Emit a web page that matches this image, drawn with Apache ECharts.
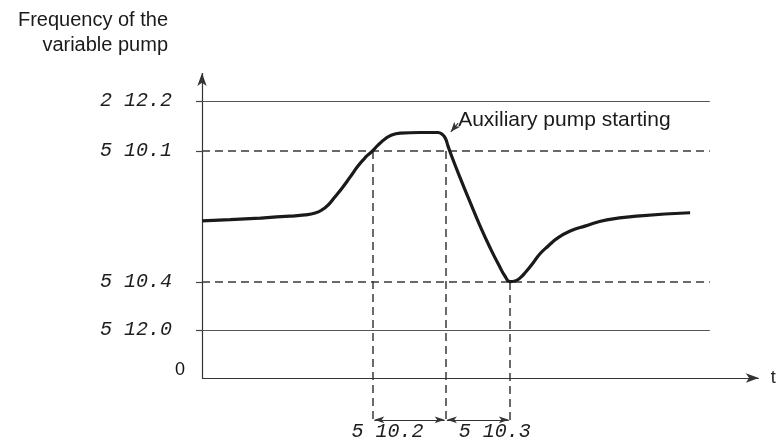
<!DOCTYPE html>
<html><head><meta charset="utf-8">
<script src="https://cdn.jsdelivr.net/npm/echarts@6/dist/echarts.min.js"></script>
<style>html,body{margin:0;padding:0;background:#fff}#c{width:780px;height:440px}</style>
</head><body><div id="c"></div>
<script>
// ---- data ----
const levelLabels = ['2 12.2', '5 10.1', '5 10.4', '5 12.0'];
const levelValues = [89.4, 73.2, 31.0, 15.5];
const levelDashed = [false, true, true, false];
const curveT = [0.0, 5.0, 10.3, 15.6, 18.3, 20.1, 21.3, 22.4, 23.6, 24.9, 26.3, 27.7, 29.1, 30.2, 31.3, 32.5, 33.7, 35.2, 38.7, 41.9, 42.6, 43.2, 43.7, 44.4, 45.8, 47.6, 49.4, 51.2, 52.9, 53.8, 54.7, 55.6, 56.5, 57.5, 58.8, 60.0, 61.5, 63.2, 65.4, 68.0, 71.9, 77.8, 86.7];
const curveF = [50.7, 51.1, 51.6, 52.2, 52.6, 53.2, 54.2, 55.8, 58.4, 61.3, 64.8, 68.4, 71.3, 73.1, 75.2, 77.1, 78.4, 79.0, 79.2, 79.2, 78.7, 77.4, 74.8, 71.3, 64.8, 56.8, 49.0, 41.9, 35.8, 32.9, 31.1, 31.3, 32.3, 34.2, 37.1, 40.0, 42.6, 45.2, 47.4, 49.0, 51.0, 52.3, 53.3];
const markerT = [30.4, 43.3, 54.7];
const markerLevel = [73.2, 73.2, 31.0];
const intervalLabels = ['5 10.2', '5 10.3'];
const annotationText = 'Auxiliary pump starting';
const titleText = 'Frequency of the\nvariable pump';
const xAxisName = 't';
const originLabel = '0';

// ---- chart ----
const segFont = {fontFamily: 'Liberation Mono', fontStyle: 'italic', fontSize: 20, color: '#1e1e1e'};
const X_MAX = 100, Y_MIN = -20, Y_MAX = 100;
const levelEnd = 90.2, dropBottom = -14.5, arrowY = -13.5;

const ml = [];
// axes with arrows
ml.push([{coord: [0, 0], symbol: 'none'}, {coord: [0, 98.4], symbol: 'arrow', symbolSize: [7, 13]}]);
ml.push([{coord: [0, 0], symbol: 'none'}, {coord: [98.9, 0], symbol: 'arrow', symbolSize: [7, 13],
  label: {show: true, formatter: xAxisName, position: 'end', distance: 12, fontFamily: 'Liberation Sans', fontSize: 18, color: '#222'}}]);
// level lines
levelValues.forEach((v, i) => {
  ml.push([{coord: [0, v], symbol: 'none', lineStyle: {type: levelDashed[i] ? [8, 5] : 'solid', width: levelDashed[i] ? 1.5 : 1.2, color: levelDashed[i] ? '#3a3a3a' : '#555'}},
           {coord: [levelEnd, v], symbol: 'none'}]);
});
// vertical dashed drop lines
markerT.forEach((t, i) => {
  ml.push([{coord: [t, markerLevel[i]], symbol: 'none', lineStyle: {type: [8, 5], width: 1.5, color: '#3a3a3a'}},
           {coord: [t, dropBottom], symbol: 'none'}]);
});
// interval double arrows
for (let i = 0; i < markerT.length - 1; i++) {
  ml.push([{coord: [markerT[i] + 0.2, arrowY], symbol: 'arrow', symbolSize: [5, 10], lineStyle: {width: 1.2, color: '#333', type: 'solid'}},
           {coord: [markerT[i + 1] - 0.2, arrowY], symbol: 'arrow', symbolSize: [5, 10]}]);
}
// annotation arrow
const evT = markerT[1], evF = 79.2;
ml.push([{coord: [evT + 2.2, evF + 3.0], symbol: 'none', lineStyle: {width: 1.2, color: '#333', type: 'solid'}},
         {coord: [evT + 0.9, evF + 0.2], symbol: 'arrow', symbolSize: [6, 10]}]);

const textPts = [];
intervalLabels.forEach((s, i) => {
  textPts.push({value: [(markerT[i] + markerT[i + 1]) / 2, arrowY],
    label: Object.assign({show: true, formatter: s, position: 'bottom', distance: 2, offset: [i === 0 ? -22 : 17, 0]}, segFont)});
});
textPts.push({value: [evT + 2.2, evF + 3.8],
  label: {show: true, formatter: annotationText, position: 'right', distance: 0, fontFamily: 'Liberation Sans', fontSize: 21, color: '#1a1a1a'}});
textPts.push({value: [0, 0],
  label: {show: true, formatter: originLabel, position: 'left', distance: 17, offset: [0, -8], fontFamily: 'Liberation Sans', fontSize: 18, color: '#111'}});

const chart = echarts.init(document.getElementById('c'), null, {renderer: 'canvas'});
chart.setOption({
  animation: false,
  backgroundColor: '#fff',
  title: {text: titleText, left: 168, top: 8, padding: 0, textAlign: 'right',
    textStyle: {fontFamily: 'Liberation Sans', fontSize: 20, fontWeight: 'normal', color: '#1a1a1a', lineHeight: 25}},
  grid: {left: 202, top: 68, width: 563, height: 372},
  xAxis: {type: 'value', min: 0, max: X_MAX, show: false},
  yAxis: {type: 'value', min: Y_MIN, max: Y_MAX,
    axisLine: {show: false}, splitLine: {show: false},
    axisTick: {show: true, length: 6, customValues: levelValues, lineStyle: {color: '#444', width: 1.2}},
    axisLabel: Object.assign({show: true, margin: 30, customValues: levelValues, padding: [0, 0, 7, 0],
      formatter: v => { const i = levelValues.indexOf(v); return i >= 0 ? levelLabels[i] : ''; }}, segFont)},
  series: [
    {type: 'line', data: [], silent: true,
     markLine: {silent: true, symbol: 'none', label: {show: false}, emphasis: {disabled: true},
       lineStyle: {color: '#333', width: 1.2, type: 'solid'}, data: ml}},
    {type: 'line', data: curveT.map((t, i) => [t, curveF[i]]), smooth: 0.5, symbol: 'none',
     lineStyle: {color: '#1a1a1a', width: 3.2}, silent: true, z: 5},
    {type: 'scatter', data: textPts, symbolSize: 0, silent: true, z: 6, itemStyle: {opacity: 1}}
  ]
});
</script></body></html>
